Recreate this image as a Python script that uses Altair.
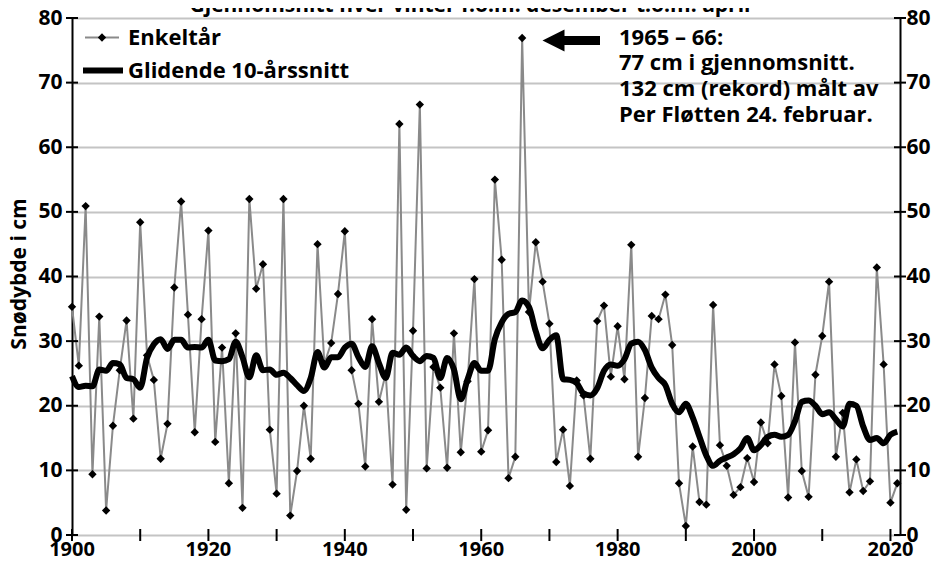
import altair as alt
import pandas as pd

years = list(range(1900, 2022))
snow = [35.3, 26.2, 50.9, 9.4, 33.8, 3.8, 16.9, 25.5, 33.2, 18.0,
        48.4, 27.8, 24.0, 11.8, 17.2, 38.3, 51.6, 34.1, 15.9, 33.4,
        47.1, 14.4, 29.0, 8.0, 31.2, 4.2, 52.0, 38.1, 41.9, 16.3,
        6.4, 52.0, 3.0, 9.9, 20.0, 11.8, 45.0, 26.5, 29.7, 37.3,
        47.0, 25.5, 20.3, 10.6, 33.4, 20.6, 25.0, 7.8, 63.6, 3.9,
        31.6, 66.6, 10.3, 26.0, 22.8, 10.4, 31.2, 12.8, 23.8, 39.6,
        12.9, 16.2, 55.0, 42.6, 8.8, 12.1, 76.9, 34.5, 45.3, 39.2,
        32.7, 11.3, 16.3, 7.6, 23.9, 21.6, 11.8, 33.1, 35.5, 24.5,
        32.3, 24.1, 44.9, 12.1, 21.2, 33.9, 33.4, 37.2, 29.4, 8.0,
        1.4, 13.7, 5.1, 4.7, 35.6, 13.9, 10.7, 6.2, 7.4, 11.9,
        8.2, 17.4, 14.2, 26.4, 21.5, 5.8, 29.8, 9.9, 5.9, 24.8,
        30.8, 39.2, 12.1, 18.9, 6.6, 11.7, 6.8, 8.3, 41.4, 26.4,
        5.0, 8.0]
avg10 = [24.6, 22.9, 23.1, 23.0, 25.6, 25.4, 26.6, 26.4, 24.3, 24.1,
         22.8, 27.4, 29.5, 30.3, 28.8, 30.2, 30.2, 29.0, 29.1, 29.0,
         30.2, 27.0, 26.9, 27.2, 29.9, 27.5, 24.4, 27.8, 25.5, 25.6,
         24.8, 25.1, 24.3, 23.2, 22.3, 24.3, 28.3, 25.9, 27.5, 27.5,
         29.0, 29.6, 27.5, 26.0, 29.2, 26.6, 24.3, 28.2, 27.9, 29.0,
         27.7, 26.9, 27.7, 27.4, 24.3, 27.4, 25.6, 21.0, 24.1, 26.6,
         25.4, 25.4, 30.3, 32.9, 34.2, 34.5, 36.3, 35.3, 31.5, 28.9,
         30.2, 30.9, 24.1, 24.0, 23.5, 21.9, 21.6, 22.7, 25.4, 26.4,
         26.2, 27.2, 29.6, 29.9, 28.6, 25.9, 24.3, 23.2, 20.3, 19.0,
         20.3, 18.2, 15.2, 12.3, 10.7, 11.5, 12.0, 12.5, 13.4, 15.0,
         13.1, 13.9, 15.2, 15.5, 15.2, 15.5, 17.6, 20.6, 20.8, 20.0,
         18.7, 19.0, 17.9, 16.8, 20.3, 20.0, 16.8, 14.7, 15.0, 14.2,
         15.5, 16.0]

x_ticks = [1900, 1910, 1920, 1930, 1940, 1950, 1960, 1970, 1980, 1990, 2000, 2010, 2020]
x_labels = ["1900", "1920", "1940", "1960", "1980", "2000", "2020"]
y_ticks = [0, 10, 20, 30, 40, 50, 60, 70, 80]

title_text = "Gjennomsnitt hver vinter f.o.m. desember t.o.m. april"
legend_single = "Enkeltår"
legend_avg = "Glidende 10-årssnitt"
y_title = "Snødybde i cm"
note_text = "1965 – 66:\n77 cm i gjennomsnitt.\n132 cm (rekord) målt av\nPer Fløtten 24. februar."

W, H = 828, 517
FONT = "Open Sans"
GRAY = "#8a8a8a"

df = pd.DataFrame({"year": years, "snow": snow, "avg": avg10})

xscale = alt.Scale(domain=[1900, 2021.4], nice=False, zero=False)
yscale = alt.Scale(domain=[0, 80], nice=False, zero=True)

label_style = dict(labelFont=FONT, labelFontSize=21, labelFontWeight="bold",
                   labelColor="black", domainColor="black", domainWidth=2,
                   ticks=False, tickSize=0, title=None)

x_axis = alt.Axis(values=x_ticks, labels=False, grid=False, ticks=False,
                  domainColor="black", domainWidth=2, title=None)
left_axis = alt.Axis(values=y_ticks, orient="left", grid=True,
                     gridColor="#c4c4c4", gridWidth=2, labelPadding=10,
                     **label_style)
right_axis = alt.Axis(values=y_ticks, orient="right", grid=False,
                      labelPadding=6, **label_style)

X = alt.X("year:Q", scale=xscale, axis=x_axis)
Xn = alt.X("year:Q", scale=xscale, axis=None)

single_line = alt.Chart(df).mark_line(color=GRAY, strokeWidth=2).encode(
    x=X, y=alt.Y("snow:Q", scale=yscale, axis=left_axis))

diamonds = alt.Chart(df).mark_point(shape="diamond", filled=True, color="black",
                                    size=70, opacity=1).encode(
    x=Xn, y=alt.Y("snow:Q", scale=yscale, axis=right_axis))

avg_line = alt.Chart(df).mark_line(color="black", strokeWidth=6,
                                   interpolate="monotone").encode(
    x=Xn, y=alt.Y("avg:Q", scale=yscale, axis=None))

xt = pd.DataFrame({"t": x_ticks})
yt = pd.DataFrame({"v": y_ticks})
xtick_rules = alt.Chart(xt).mark_rule(color="black", strokeWidth=2).encode(
    x=alt.X("t:Q", scale=xscale, axis=None), y=alt.value(H - 6), y2=alt.value(H + 6))
ytick_left = alt.Chart(yt).mark_rule(color="black", strokeWidth=2).encode(
    y=alt.Y("v:Q", scale=yscale, axis=None), x=alt.value(-6), x2=alt.value(6))
ytick_right = alt.Chart(yt).mark_rule(color="black", strokeWidth=2).encode(
    y=alt.Y("v:Q", scale=yscale, axis=None), x=alt.value(W - 6), x2=alt.value(W + 6))

txt = dict(font=FONT, fontWeight="bold", color="black")

xlab = alt.Chart(pd.DataFrame({"lab": x_labels})).transform_calculate(
    yr="toNumber(datum.lab)").mark_text(
    fontSize=20, align="center", baseline="alphabetic", **txt).encode(
    x=alt.X("yr:Q", scale=xscale, axis=None), text="lab:N", y=alt.value(H + 21))

title = alt.Chart(pd.DataFrame({"t": [title_text]})).mark_text(
    fontSize=21, align="center", baseline="alphabetic", **txt).encode(
    text="t:N", x=alt.value(398), y=alt.value(-6))

ytitle = alt.Chart(pd.DataFrame({"t": [y_title]})).mark_text(
    fontSize=21, align="center", baseline="middle", angle=270, **txt).encode(
    text="t:N", x=alt.value(-52), y=alt.value(256))

leg1_line = alt.Chart(pd.DataFrame({"k": [0]})).mark_rule(color=GRAY, strokeWidth=2).encode(
    x=alt.value(13), x2=alt.value(47), y=alt.value(19.5))
leg1_pt = alt.Chart(pd.DataFrame({"k": [0]})).mark_point(
    shape="diamond", filled=True, color="black", size=70, opacity=1).encode(
    x=alt.value(30), y=alt.value(19.5))
leg1_txt = alt.Chart(pd.DataFrame({"t": [legend_single]})).mark_text(
    fontSize=22, align="left", baseline="middle", **txt).encode(
    text="t:N", x=alt.value(56), y=alt.value(19.5))
leg2_line = alt.Chart(pd.DataFrame({"k": [0]})).mark_rule(color="black", strokeWidth=6).encode(
    x=alt.value(11), x2=alt.value(51), y=alt.value(52.5))
leg2_txt = alt.Chart(pd.DataFrame({"t": [legend_avg]})).mark_text(
    fontSize=22, align="left", baseline="middle", **txt).encode(
    text="t:N", x=alt.value(56), y=alt.value(52.5))

arrow_head = alt.Chart(pd.DataFrame({"k": [0]})).mark_point(
    shape="M-1,0L1,-1L1,1Z", filled=True, color="black", size=484, opacity=1).encode(
    x=alt.value(481.5), y=alt.value(22.6))
arrow_shaft = alt.Chart(pd.DataFrame({"k": [0]})).mark_rule(color="black", strokeWidth=9).encode(
    x=alt.value(490), x2=alt.value(528), y=alt.value(22.6))

note = alt.Chart(pd.DataFrame({"t": [note_text]})).mark_text(
    fontSize=22, align="left", baseline="alphabetic", lineBreak="\n",
    lineHeight=25.7, **txt).encode(
    text="t:N", x=alt.value(547), y=alt.value(26.5))

chart = alt.layer(
    single_line, avg_line, diamonds, xtick_rules, ytick_left, ytick_right,
    xlab, title, ytitle, leg1_line, leg1_pt, leg1_txt, leg2_line, leg2_txt,
    arrow_shaft, arrow_head, note
).resolve_axis(y="independent").properties(
    width=W, height=H,
    autosize=alt.AutoSizeParams(type="none"),
    padding={"left": 64, "top": 10, "right": 32, "bottom": 23},
    background="white",
).configure_view(stroke=None)

chart.save("out.html", embed_options={"renderer": "svg", "actions": False})
